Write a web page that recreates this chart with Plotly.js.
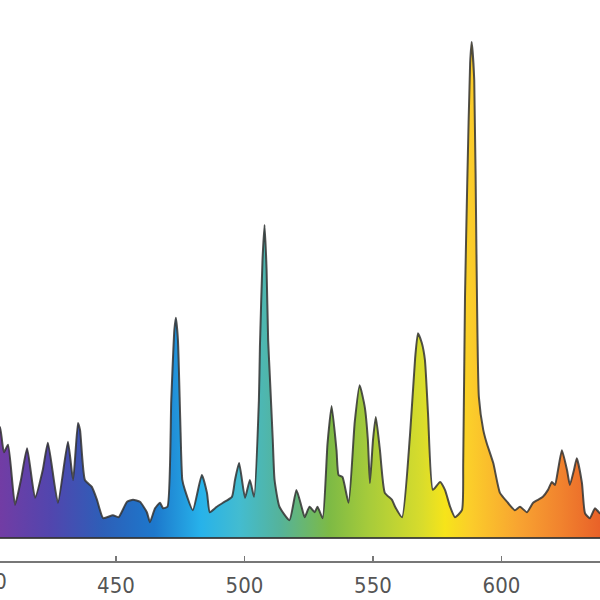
<!DOCTYPE html>
<html>
<head>
<meta charset="utf-8">
<script src="https://cdn.plot.ly/plotly-3.0.1.min.js"></script>
<style>html,body{margin:0;padding:0;background:#fff;}#chart{width:600px;height:600px;}</style>
</head>
<body>
<div id="chart"></div>
<script>
// Wavelength (nm) and relative intensity
const wavelength = [
  402.0, 403.5, 404.9, 406.4, 408.0, 410.7, 413.0, 415.4, 418.5, 421.5, 423.5, 427.4, 431.3, 433.3, 435.2, 436.0,
  437.9, 440.6, 442.6, 445.0, 448.8, 451.0, 454.3, 456.6, 459.3, 462.0, 463.2, 465.2, 467.1, 468.3, 470.0,
  471.5, 472.7, 473.3, 474.1, 475.0, 475.8, 476.8, 479.9, 483.4, 485.4, 486.5, 489.2, 491.6, 495.1, 496.3,
  497.9, 500.2, 502.1, 503.7, 505.6, 506.0, 507.0, 507.8, 508.6, 509.2, 509.8, 511.0, 511.7, 513.6, 517.5,
  520.2, 522.2, 523.4, 525.3, 527.3, 528.4, 530.4, 532.3, 533.9, 535.8, 536.6, 538.1, 540.5, 542.9, 544.8,
  546.8, 548.0, 548.8, 550.0, 551.1, 552.7, 554.6, 557.4, 558.6, 561.3, 564.4, 566.4, 567.5, 569.0, 570.2,
  571.4, 573.3, 576.1, 578.0, 580.0, 581.9, 584.6, 585.1, 585.8, 586.7, 587.8, 588.4, 589.4, 590.3, 591.2,
  592.9, 594.2, 596.8, 599.4, 602.5, 605.2, 607.2, 609.9, 612.3, 614.2, 616.1, 618.1, 619.6, 620.8, 622.0,
  623.5, 625.5, 626.6, 628.2, 629.3, 631.3, 632.5, 634.4, 636.4, 638.3, 640.0
];
const intensity = [
  10.0, 17.0, 22.4, 17.3, 18.8, 6.7, 11.7, 18.1, 8.1, 13.7, 19.2, 7.1, 19.4, 11.7, 23.2, 21.8,
  11.7, 10.3, 7.7, 4.0, 4.6, 4.2, 7.3, 7.7, 7.3, 5.2, 3.2, 6.0, 7.1, 6.0, 6.3,
  27.8, 41.9, 44.4, 39.9, 23.8, 11.7, 9.7, 5.6, 12.7, 9.1, 5.2, 6.3, 7.1, 8.3, 11.7,
  15.1, 8.1, 11.7, 8.3, 27.8, 38.5, 56.0, 63.1, 54.0, 39.9, 33.3, 19.8, 11.7, 6.3, 3.6,
  9.7, 6.3, 4.2, 6.3, 5.2, 6.3, 4.0, 19.0, 26.6, 17.7, 12.7, 12.3, 7.1, 23.4, 30.8,
  26.4, 19.8, 11.1, 19.8, 24.4, 17.7, 9.1, 7.7, 6.3, 4.2, 20.8, 36.3, 41.3, 39.3, 35.9,
  25.2, 9.7, 11.3, 9.7, 6.3, 4.2, 5.6, 15.1, 48.6, 72.2, 95.8, 100.0, 92.3, 55.4, 28.4,
  21.8, 19.2, 15.1, 9.1, 7.1, 5.6, 6.3, 5.2, 7.1, 7.7, 8.3, 9.7, 11.3, 10.7, 13.7,
  17.7, 13.7, 10.7, 13.7, 16.1, 11.1, 5.0, 4.0, 6.0, 5.0, 5.5
];
// Spectral colour stops (wavelength nm -> colour)
const gradNm = [400, 425, 445, 465, 483, 498, 514, 533, 549, 569, 578, 588, 607, 623, 640];
const gradColors = ['#7a3aa2', '#5146ae', '#2d5fb8', '#1d78cc', '#27b2ea', '#43bcd0', '#55b39a', '#7dba45',
                    '#a8cc3a', '#d8dc2c', '#f6e41a', '#fbcd2a', '#f8a331', '#f1832e', '#e85e28'];
const tickValues = [400, 450, 500, 550, 600];
const tickLabels = ['400', '450', '500', '550', '600'];
const xRange = [404.86, 638.33];
const yRange = [-4.637, 108.468];

const g0 = gradNm[0], g1 = gradNm[gradNm.length - 1];
const colorscale = gradNm.map((w, i) => [(w - g0) / (g1 - g0), gradColors[i]]);
const outline = 'rgba(50,50,50,0.85)';

const spectrum = {
  type: 'scatter', mode: 'lines', x: wavelength, y: intensity,
  fill: 'tozeroy',
  fillgradient: {type: 'horizontal', start: g0, stop: g1, colorscale: colorscale},
  line: {color: outline, width: 2, shape: 'spline', smoothing: 0.5},
  hoverinfo: 'skip'
};
// baseline of the filled spectrum (y = 0)
const baseline = {
  type: 'scatter', mode: 'lines',
  x: [wavelength[0], wavelength[wavelength.length - 1]], y: [0, 0],
  line: {color: outline, width: 2}, hoverinfo: 'skip'
};

const tickFont = {family: 'DejaVu Sans Condensed, Liberation Sans Narrow, Roboto, sans-serif', size: 22, color: '#555'};

const layout = {
  width: 600, height: 600,
  margin: {l: 0, r: 0, t: 0, b: 39, pad: 0},
  paper_bgcolor: '#fff', plot_bgcolor: '#fff',
  showlegend: false,
  xaxis: {
    range: xRange, tickvals: tickValues, ticktext: tickLabels,
    ticks: 'inside', ticklen: 5, tickwidth: 1.5, tickcolor: '#777',
    ticklabelstandoff: 4,
    showline: true, linecolor: '#777', linewidth: 2,
    showgrid: false, zeroline: false,
    tickfont: tickFont
  },
  yaxis: {range: yRange, visible: false, showgrid: false, zeroline: false},
  annotations: [{
    xref: 'paper', yref: 'paper',
    x: (tickValues[0] - xRange[0]) / (xRange[1] - xRange[0]),
    y: 0, yshift: -20, xanchor: 'center', yanchor: 'middle',
    text: tickLabels[0], showarrow: false, font: tickFont
  }]
};

Plotly.newPlot('chart', [spectrum, baseline], layout, {staticPlot: true, displayModeBar: false});
</script>
</body>
</html>
